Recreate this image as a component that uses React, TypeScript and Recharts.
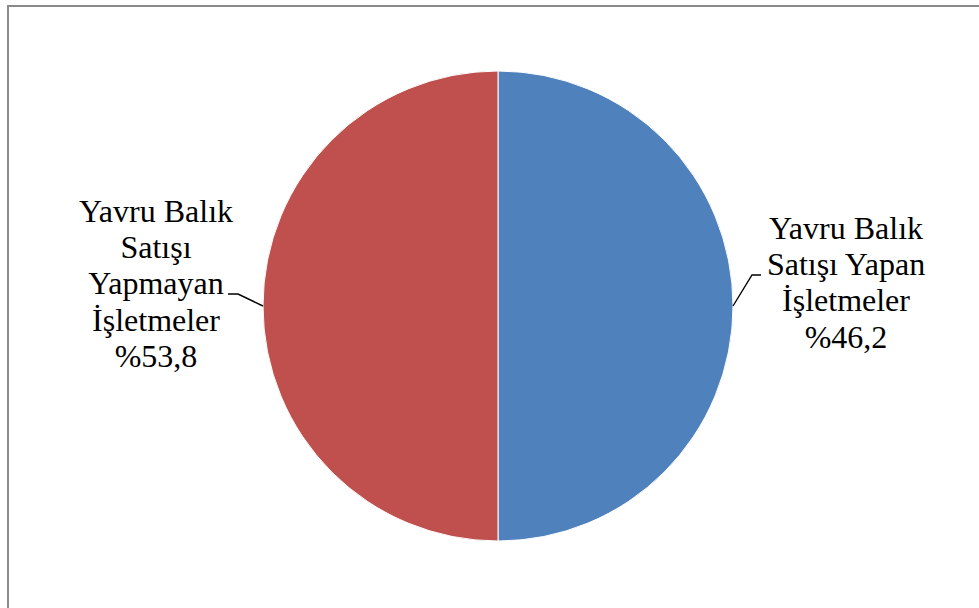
import React from 'react';
import { PieChart, Pie, Cell } from 'recharts';

// slices as drawn in the picture (two equal halves)
const sliceValues = [50, 50];
const sliceNames = ['Yavru Balık Satışı Yapan İşletmeler', 'Yavru Balık Satışı Yapmayan İşletmeler'];
const labelLines = [
  ['Yavru Balık', 'Satışı Yapan', 'İşletmeler'],
  ['Yavru Balık', 'Satışı', 'Yapmayan', 'İşletmeler'],
];
const labelPercents = ['%46,2', '%53,8'];
const COLORS = ['#4F81BD', '#C0504D'];

const chartData = sliceValues.map((value, i) => ({ name: sliceNames[i], value }));

// label placement per side (offsets from pie edge / centre)
const LABEL_LAYOUT = [
  { textDx: 348, firstDy: -67, elbowDx: 19, elbowDy: -31, tailDx: 28 },
  { textDx: -342, firstDy: -84, elbowDx: -25, elbowDy: -12, tailDx: -35 },
];
const LINE_H = 36.2;
const FONT = 'Liberation Serif';

const renderLabel = (props: any) => {
  const { cx, cy, midAngle, outerRadius, index } = props;
  const RADIAN = Math.PI / 180;
  const sx = cx + outerRadius * Math.cos(-midAngle * RADIAN);
  const sy = cy + outerRadius * Math.sin(-midAngle * RADIAN);
  const lay = LABEL_LAYOUT[index];
  const lines = [...labelLines[index], labelPercents[index]];
  const ex = sx + lay.elbowDx;
  const ey = sy + lay.elbowDy;
  return (
    <g>
      <path
        d={`M${sx},${sy}L${ex},${ey}L${sx + lay.tailDx},${ey}`}
        stroke="#000"
        strokeWidth={1.4}
        fill="none"
      />
      {lines.map((t, i) => (
        <text
          key={i}
          x={cx + lay.textDx}
          y={cy + lay.firstDy + i * LINE_H}
          textAnchor="middle"
          fill="#000"
          stroke="none"
          fontFamily={FONT}
          fontSize={32}
        >
          {t}
        </text>
      ))}
    </g>
  );
};

const App: React.FC = () => {
  return (
    <div style={{ position: 'absolute', left: 0, top: 0, width: 979, height: 608, overflow: 'hidden', background: '#fff', fontFamily: FONT }}>
      <div
        style={{
          position: 'absolute',
          left: 7,
          top: 5,
          width: 1000,
          height: 700,
          border: '2px solid #8a8a8a',
        }}
      />
      <div style={{ position: 'absolute', left: 0, top: 0 }}>
        <PieChart width={979} height={608} margin={{ top: 0, right: 0, bottom: 0, left: 0 }}>
          <Pie
            data={chartData}
            dataKey="value"
            nameKey="name"
            cx={498}
            cy={306}
            outerRadius={235}
            startAngle={90}
            endAngle={-270}
            stroke="#ffffff"
            strokeWidth={1}
            label={renderLabel}
            labelLine={false}
            isAnimationActive={false}
          >
            {chartData.map((entry, index) => (
              <Cell key={`cell-${index}`} fill={COLORS[index % COLORS.length]} />
            ))}
          </Pie>
        </PieChart>
      </div>
    </div>
  );
};

export default App;
